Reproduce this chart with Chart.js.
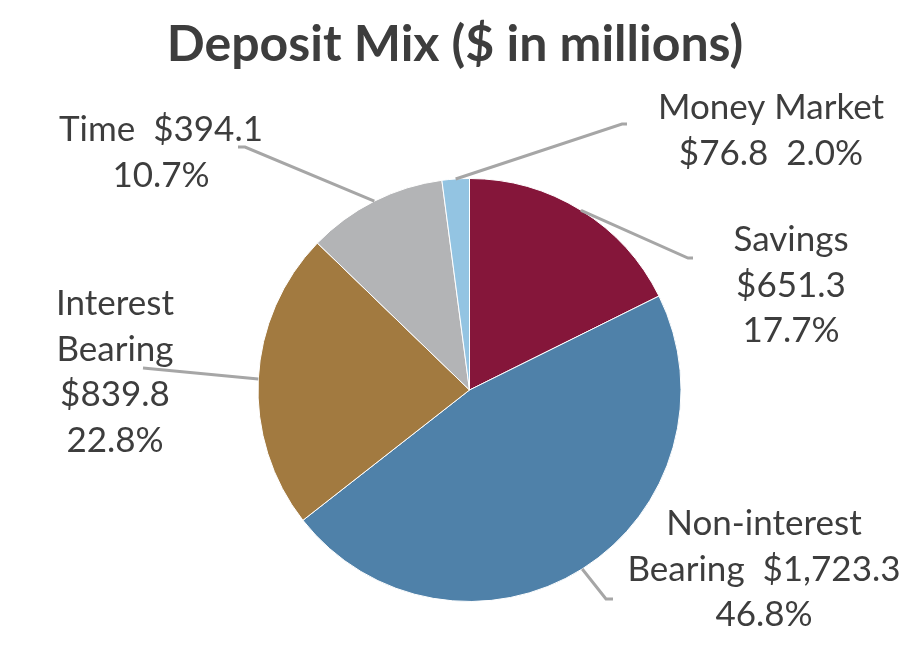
<!DOCTYPE html>
<html>
<head>
<meta charset="utf-8">
<script src="https://cdn.jsdelivr.net/npm/chart.js@4.4.1/dist/chart.umd.min.js"></script>
<style>
  html, body { margin: 0; padding: 0; background: #fff; }
  #wrap { width: 910px; height: 661px; position: relative; }
</style>
</head>
<body>
<div id="wrap"><canvas id="depositMix"></canvas></div>
<script>
// Deposit mix, $ in millions (clockwise from 12 o'clock)
const categories = ['Savings', 'Non-interest Bearing', 'Interest Bearing', 'Time', 'Money Market'];
const balances   = [651.3, 1723.3, 839.8, 394.1, 76.8];
const shares     = [17.7, 46.8, 22.8, 10.7, 2.0];
const sliceColors = ['#85163a', '#4f81a9', '#a27a40', '#b3b4b6', '#93c4e2'];

const TEXT = '#3d3d3d';
const FONT = 'Lato, "Open Sans", sans-serif';

const money = v => '$' + v.toLocaleString('en-US', { minimumFractionDigits: 1, maximumFractionDigits: 1 });
const pct = v => v.toFixed(1) + '%';

// label placement per slice: text centre, leader elbow and how the text wraps
const labelLayout = [
  { x: 791, y: 240, elbow: [688, 258], tail: 5,  lines: (n, v, p) => [n, v, p] },
  { x: 764, y: 524, elbow: [606, 599], tail: 7,  lines: (n, v, p) => [n.split(' ')[0], n.split(' ')[1] + '  ' + v, p] },
  { x: 115, y: 304, elbow: [143, 368], tail: 0,  lines: (n, v, p) => [...n.split(' '), v, p] },
  { x: 161, y: 130, elbow: [245, 147], tail: -7, lines: (n, v, p) => [n + '  ' + v, p] },
  { x: 771, y: 108, elbow: [622, 124], tail: 5,  lines: (n, v, p) => [n, v + '  ' + p] },
];

const outsideLabels = {
  id: 'outsideLabels',
  afterDatasetsDraw(chart, args, opts) {
    const { ctx } = chart;
    const meta = chart.getDatasetMeta(0);
    ctx.save();

    meta.data.forEach((arc, i) => {
      const lay = opts.layout[i];
      const mid = (arc.startAngle + arc.endAngle) / 2;
      const sx = arc.x + Math.cos(mid) * arc.outerRadius;
      const sy = arc.y + Math.sin(mid) * arc.outerRadius;

      // leader line
      ctx.strokeStyle = '#a6a6a6';
      ctx.lineWidth = 3;
      ctx.beginPath();
      ctx.moveTo(sx, sy);
      ctx.lineTo(lay.elbow[0], lay.elbow[1]);
      if (lay.tail) ctx.lineTo(lay.elbow[0] + lay.tail, lay.elbow[1]);
      ctx.stroke();

      // label text
      const lines = lay.lines(categories[i], money(balances[i]), pct(shares[i]));
      ctx.fillStyle = TEXT;
      ctx.font = '400 ' + opts.fontSize + 'px ' + FONT;
      ctx.textAlign = 'center';
      ctx.textBaseline = 'middle';
      lines.forEach((t, k) => ctx.fillText(t, lay.x, lay.y + k * opts.lineGap));
    });

    // title
    ctx.font = '700 ' + opts.titleSize + 'px ' + FONT;
    ctx.fillStyle = TEXT;
    ctx.fillText(opts.title, 455, 45);
    ctx.restore();
  }
};

new Chart(document.getElementById('depositMix'), {
  type: 'pie',
  data: {
    labels: categories,
    datasets: [{
      data: balances,
      backgroundColor: sliceColors,
      borderColor: '#ffffff',
      borderWidth: 1,
    }],
  },
  options: {
    responsive: true,
    maintainAspectRatio: false,
    animation: false,
    layout: { padding: { left: 257, right: 228, top: 178, bottom: 59 } },
    plugins: {
      legend: { display: false },
      tooltip: { enabled: false },
      title: { display: false },
      outsideLabels: {
        layout: labelLayout,
        fontSize: 35,
        lineGap: 45.5,
        title: 'Deposit Mix ($ in millions)',
        titleSize: 50,
      },
    },
  },
  plugins: [outsideLabels],
});
</script>
</body>
</html>
